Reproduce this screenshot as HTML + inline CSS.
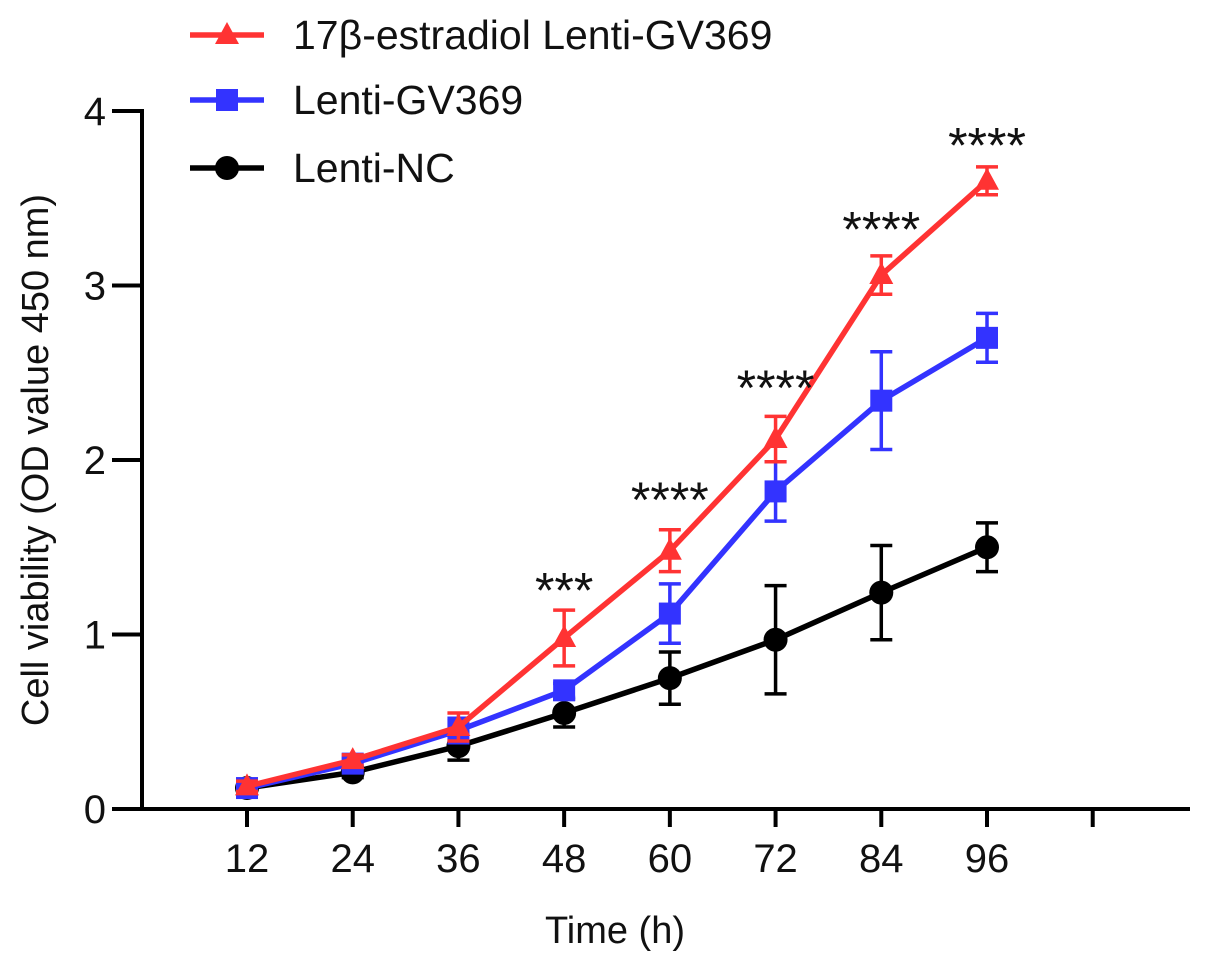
<!DOCTYPE html>
<html><head><meta charset="utf-8"><style>
body{margin:0;background:#fff}
svg{font-family:"Liberation Sans",Arial,sans-serif;display:block}
</style></head><body>
<svg id="chart" width="1205" height="966" viewBox="0 0 1205 966" xmlns="http://www.w3.org/2000/svg">
<g id="axes"></g>
<g id="series"></g>
<g id="legend"></g>
<text transform="translate(48,460) rotate(-90)" text-anchor="middle" font-size="38" fill="#111">Cell viability (OD value 450 nm)</text>
<text x="615" y="943" text-anchor="middle" font-size="38" fill="#111">Time (h)</text>
</svg>
<script>
const categories=[12,24,36,48,60,72,84,96];
const redValues=[0.13,0.28,0.47,0.98,1.48,2.12,3.06,3.60];
const redErrors=[0.03,0.03,0.08,0.16,0.12,0.13,0.11,0.08];
const blueValues=[0.12,0.26,0.45,0.68,1.12,1.82,2.34,2.70];
const blueErrors=[0.03,0.03,0.07,0.04,0.17,0.17,0.28,0.14];
const blackValues=[0.12,0.21,0.36,0.55,0.75,0.97,1.24,1.50];
const blackErrors=[0.03,0.03,0.08,0.08,0.15,0.31,0.27,0.14];
const yTicks=[0,1,2,3,4];
const xTicks=[12,24,36,48,60,72,84,96,108];
const xTickLabels=["12","24","36","48","60","72","84","96",""];
const starLabels=["","","","***","****","****","****","****"];
const starValues=[0,0,0,1.28,1.80,2.44,3.35,3.83];

const NS="http://www.w3.org/2000/svg";
const X=v=>247+(v-12)*(740/84);
const Y=v=>809-v*174.5;
function mk(tag,attrs,parent){const e=document.createElementNS(NS,tag);for(const k in attrs)e.setAttribute(k,attrs[k]);parent.appendChild(e);return e;}
const axes=document.getElementById('axes');
let e=mk('line',{x1:142,y1:Y(4)-2,x2:142,y2:Y(0)+2,stroke:'#000','stroke-width':4},axes);


e=mk('line',{x1:140,y1:Y(0),x2:1190,y2:Y(0),stroke:'#000','stroke-width':4},axes);


yTicks.forEach(t=>{
  let l=mk('line',{x1:112,y1:Y(t),x2:142,y2:Y(t),stroke:'#000','stroke-width':4},axes);
  
  
  let tx=mk('text',{x:106,y:Y(t)+14,'text-anchor':'end','font-size':40,fill:'#111'},axes);
  tx.textContent=t;
  
  
});
xTicks.forEach((t,i)=>{
  let l=mk('line',{x1:X(t),y1:Y(0),x2:X(t),y2:Y(0)+18,stroke:'#000','stroke-width':4},axes);
  
  
  let tx=mk('text',{x:X(t),y:872,'text-anchor':'middle','font-size':40,fill:'#111'},axes);
  tx.textContent=xTickLabels[i];
  
  
});
const ser=document.getElementById('series');
function marker(type,x,y,color,g){
  let m;
  if(type==='tri') m=mk('polygon',{points:`${x},${y-13} ${x-12},${y+9} ${x+12},${y+9}`,fill:color},g);
  else if(type==='sq') m=mk('rect',{x:x-11,y:y-11,width:22,height:22,fill:color},g);
  else m=mk('circle',{cx:x,cy:y,r:12,fill:color},g);
  return m;
}
function drawSeries(name,vals,errs,color,type){
  const g=mk('g',{},ser);
  
  
  vals.forEach((v,i)=>{
    const x=X(categories[i]);
    const p=mk('path',{d:`M${x},${Y(v-errs[i])}V${Y(v+errs[i])}M${x-11},${Y(v+errs[i])}h22M${x-11},${Y(v-errs[i])}h22`,stroke:color,'stroke-width':3.5,fill:'none'},g);
    
    
  });
  const pl=mk('polyline',{points:vals.map((v,i)=>X(categories[i])+','+Y(v)).join(' '),stroke:color,'stroke-width':5.5,fill:'none','stroke-linejoin':'round'},g);
  
  
  vals.forEach((v,i)=>{
    const m=marker(type,X(categories[i]),Y(v),color,g);
    
    
  });
}
drawSeries('lenti-nc',blackValues,blackErrors,'#000','circ');
drawSeries('lenti-gv369',blueValues,blueErrors,'#3333ff','sq');
drawSeries('estradiol-lenti-gv369',redValues,redErrors,'#ff3333','tri');
starLabels.forEach((s,i)=>{
  if(!s)return;
  const t=mk('text',{x:X(categories[i]),y:Y(starValues[i])+22,'text-anchor':'middle','font-size':50,fill:'#111'},ser);
  t.textContent=s;
  
  
});
const leg=document.getElementById('legend');
[['17β-estradiol Lenti-GV369','#ff3333','tri',35],['Lenti-GV369','#3333ff','sq',100],['Lenti-NC','#000','circ',168]].forEach(([lab,c,type,y])=>{
  const g=mk('g',{},leg);
  
  
  mk('line',{x1:190,y1:y,x2:264,y2:y,stroke:c,'stroke-width':5.5},g);
  marker(type,227,y,c,g);
  const t=mk('text',{x:293,y:y+14,'font-size':41,fill:'#111'},g);
  t.textContent=lab;
});
</script>
</body></html>
